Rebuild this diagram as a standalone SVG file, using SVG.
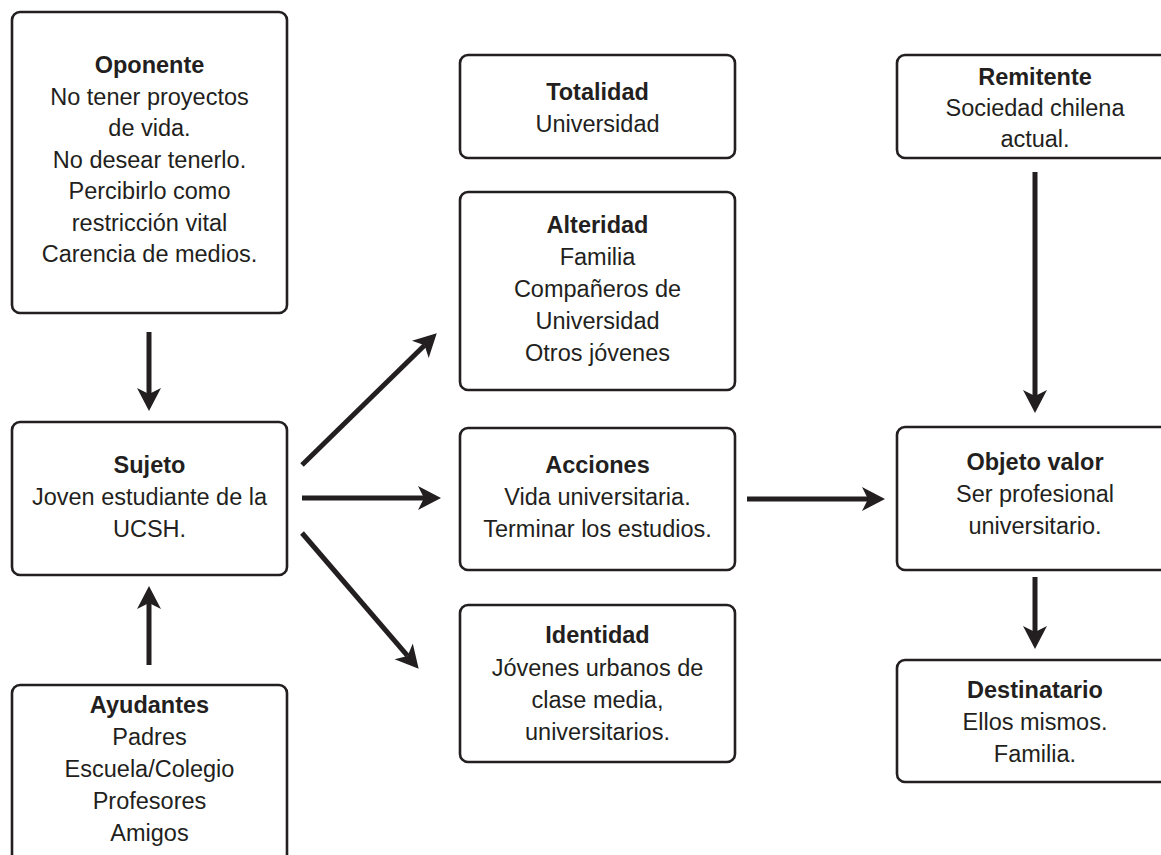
<svg xmlns="http://www.w3.org/2000/svg" width="1161" height="855" viewBox="0 0 1161 855">
<style>
.box{fill:#fff;stroke:#231f20;stroke-width:2.6}
text{font-family:"Liberation Sans",Arial,sans-serif;font-size:23.5px;fill:#231f20;text-anchor:middle}
.h{font-weight:bold}
.c{stroke:#231f20;stroke-width:5;fill:none}
</style>
<defs>
<marker id="ah" markerUnits="userSpaceOnUse" markerWidth="40" markerHeight="40" viewBox="-10 -20 40 40" refX="0" refY="0" orient="auto">
<path d="M17,0 L-6,-12 L0,0 L-6,12 Z" fill="#231f20"/>
</marker>
</defs>
<rect width="1161" height="855" fill="#fff"/>
<g id="oponente">
<rect class="box" x="12" y="12" width="275" height="301" rx="8"/>
<text x="149.5" y="73" class="h">Oponente</text>
<text x="149.5" y="104.5">No tener proyectos</text>
<text x="149.5" y="136">de vida.</text>
<text x="149.5" y="167.5">No desear tenerlo.</text>
<text x="149.5" y="199">Percibirlo como</text>
<text x="149.5" y="230.5">restricción vital</text>
<text x="149.5" y="262">Carencia de medios.</text>
</g>
<g id="sujeto">
<rect class="box" x="12" y="422" width="275" height="153" rx="8"/>
<text x="149.5" y="473" class="h">Sujeto</text>
<text x="149.5" y="505">Joven estudiante de la</text>
<text x="149.5" y="537">UCSH.</text>
</g>
<g id="ayudantes">
<rect class="box" x="12" y="685" width="275" height="200" rx="8"/>
<text x="149.5" y="713" class="h">Ayudantes</text>
<text x="149.5" y="745">Padres</text>
<text x="149.5" y="777">Escuela/Colegio</text>
<text x="149.5" y="809">Profesores</text>
<text x="149.5" y="841">Amigos</text>
</g>
<g id="totalidad">
<rect class="box" x="460" y="55" width="275" height="103" rx="8"/>
<text x="597.5" y="100" class="h">Totalidad</text>
<text x="597.5" y="132">Universidad</text>
</g>
<g id="alteridad">
<rect class="box" x="460" y="192" width="275" height="198" rx="8"/>
<text x="597.5" y="233" class="h">Alteridad</text>
<text x="597.5" y="265">Familia</text>
<text x="597.5" y="297">Compañeros de</text>
<text x="597.5" y="329">Universidad</text>
<text x="597.5" y="361">Otros jóvenes</text>
</g>
<g id="acciones">
<rect class="box" x="460" y="428" width="275" height="142" rx="8"/>
<text x="597.5" y="473" class="h">Acciones</text>
<text x="597.5" y="505">Vida universitaria.</text>
<text x="597.5" y="537">Terminar los estudios.</text>
</g>
<g id="identidad">
<rect class="box" x="460" y="605" width="275" height="157" rx="8"/>
<text x="597.5" y="643" class="h">Identidad</text>
<text x="597.5" y="675.5">Jóvenes urbanos de</text>
<text x="597.5" y="708">clase media,</text>
<text x="597.5" y="740">universitarios.</text>
</g>
<g id="remitente">
<rect class="box" x="897" y="55" width="300" height="103" rx="8"/>
<text x="1035" y="85" class="h">Remitente</text>
<text x="1035" y="116">Sociedad chilena</text>
<text x="1035" y="147">actual.</text>
</g>
<g id="objeto-valor">
<rect class="box" x="897" y="427" width="300" height="143" rx="8"/>
<text x="1035" y="470" class="h">Objeto valor</text>
<text x="1035" y="502">Ser profesional</text>
<text x="1035" y="534">universitario.</text>
</g>
<g id="destinatario">
<rect class="box" x="897" y="660" width="300" height="122" rx="8"/>
<text x="1035" y="698" class="h">Destinatario</text>
<text x="1035" y="730">Ellos mismos.</text>
<text x="1035" y="762">Familia.</text>
</g>
<g id="connectors">
<line class="c" x1="149" y1="332" x2="149" y2="394" marker-end="url(#ah)"/>
<line class="c" x1="149" y1="665" x2="149" y2="603" marker-end="url(#ah)"/>
<line class="c" x1="302" y1="465" x2="424.6" y2="345.2" marker-end="url(#ah)"/>
<line class="c" x1="302" y1="498" x2="424" y2="498" marker-end="url(#ah)"/>
<line class="c" x1="302" y1="533" x2="407.6" y2="655.9" marker-end="url(#ah)"/>
<line class="c" x1="747" y1="499" x2="868" y2="499" marker-end="url(#ah)"/>
<line class="c" x1="1035" y1="172" x2="1035" y2="396" marker-end="url(#ah)"/>
<line class="c" x1="1035" y1="577" x2="1035" y2="632" marker-end="url(#ah)"/>
</g>
</svg>
